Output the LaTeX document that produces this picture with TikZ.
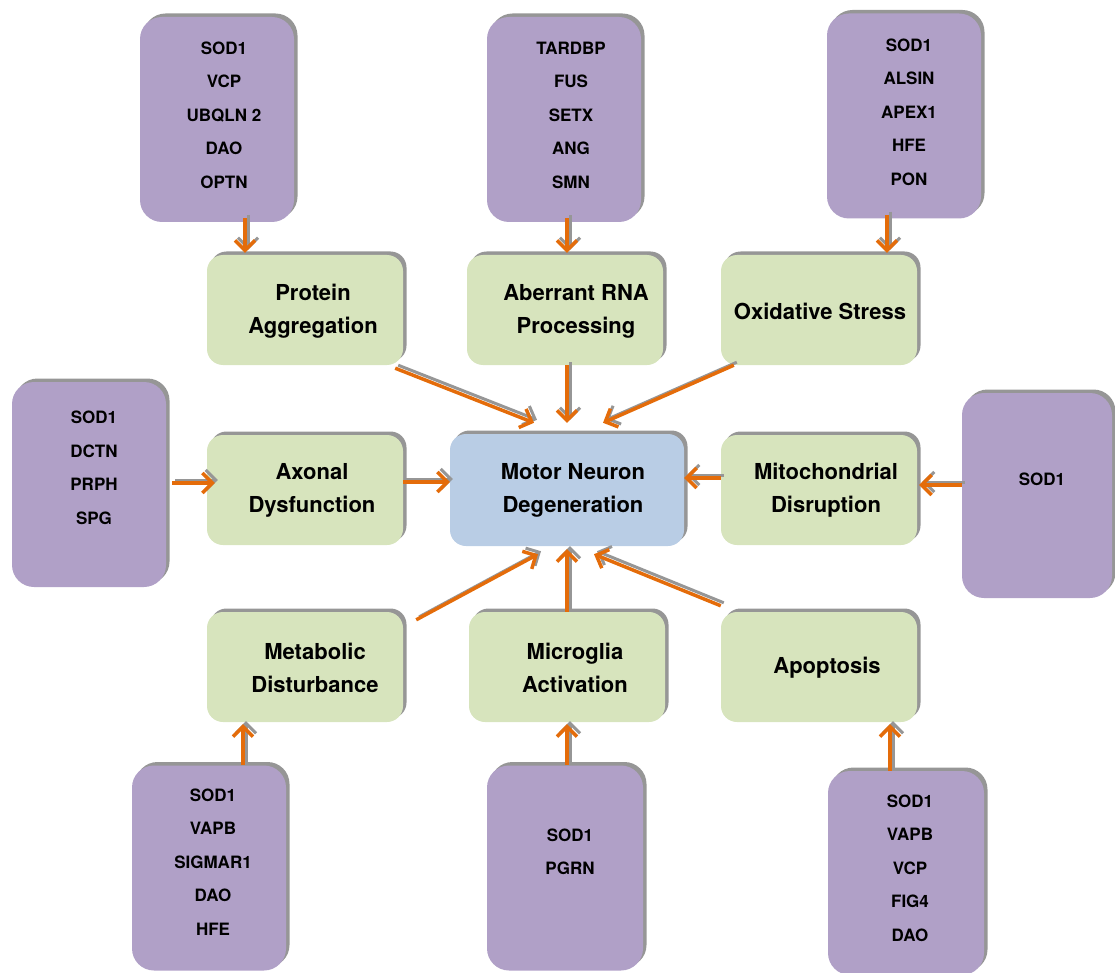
\documentclass[tikz,border=0pt]{standalone}
\usepackage{fontspec}
\setmainfont{TeX Gyre Heros}
\usetikzlibrary{arrows.meta,calc,shadows}
\definecolor{purplebox}{RGB}{176,160,199}
\definecolor{greenbox}{RGB}{215,228,189}
\definecolor{bluebox}{RGB}{185,205,229}
\definecolor{arrorange}{RGB}{228,108,10}
\definecolor{shadowgray}{RGB}{150,150,150}
\tikzset{
  boxshadow/.style={drop shadow={shadow xshift=3.5pt,shadow yshift=3.5pt,fill=shadowgray,opacity=1}},
  genebox/.style={rectangle,rounded corners=22pt,fill=purplebox,boxshadow,minimum width=154pt,minimum height=205pt,inner sep=0pt},
  procbox/.style={rectangle,rounded corners=16pt,fill=greenbox,boxshadow,minimum width=196pt,minimum height=110pt,inner sep=0pt},
  mainbox/.style={rectangle,rounded corners=16pt,fill=bluebox,boxshadow,minimum width=234pt,minimum height=112pt,inner sep=0pt},
  genetext/.style={align=center,font=\bfseries\fontsize{17pt}{33.5pt}\selectfont,text=black,inner sep=0pt},
  proctext/.style={align=center,font=\bfseries\fontsize{22pt}{33pt}\selectfont,text=black,inner sep=0pt},
  arr/.style={draw=arrorange,line width=3.5pt,-{Straight Barb[length=10pt,width=20pt]},
    preaction={draw=shadowgray,line width=3pt,transform canvas={xshift=3pt,yshift=3pt}}},
}
\begin{document}
\begin{tikzpicture}[x=1pt,y=-1pt]
\useasboundingbox (0,0) rectangle (1115,973);
% gene boxes
\node[genebox] (P1) at (217,119.5) {};
\node[genebox] (P2) at (564,119.5) {};
\node[genebox] (P3) at (904,116) {};
\node[genebox] (P4) at (89,484.5) {};
\node[genebox,minimum width=150pt] (P5) at (1037,495.5) {};
\node[genebox] (P6) at (209,868) {};
\node[genebox,minimum width=156pt] (P7) at (565,868) {};
\node[genebox,minimum width=156pt,minimum height=204pt] (P8) at (906,873) {};
\node[genetext] (T1) at (224,115) {SOD1\\VCP\\UBQLN 2\\DAO\\OPTN};
\node[genetext] (T2) at (571,115) {TARDBP\\FUS\\SETX\\ANG\\SMN};
\node[genetext] (T3) at (909,112) {SOD1\\ALSIN\\APEX1\\HFE\\PON};
\node[genetext] (T4) at (94,468) {SOD1\\DCTN\\PRPH\\SPG};
\node[genetext] (T5) at (1042,479) {SOD1};
\node[genetext] (T6) at (213,862) {SOD1\\VAPB\\SIGMAR1\\DAO\\HFE};
\node[genetext] (T7) at (570,852) {SOD1\\PGRN};
\node[genetext] (T8) at (910,868) {SOD1\\VAPB\\VCP\\FIG4\\DAO};
% process boxes
\node[procbox] (G1) at (305,310) {};
\node[procbox] (G2) at (565,310) {};
\node[procbox] (G3) at (819,310) {};
\node[procbox] (G4) at (305,490) {};
\node[mainbox] (M) at (567,490) {};
\node[procbox] (G6) at (819,490) {};
\node[procbox] (G7) at (305,667) {};
\node[procbox] (G8) at (567,667) {};
\node[procbox] (G9) at (819,667) {};
\node[proctext] (L1) at (313,311.5) {Protein\\Aggregation};
\node[proctext] (L2) at (576,311.5) {Aberrant RNA\\Processing};
\node[proctext] (L3) at (820,311) {Oxidative Stress};
\node[proctext] (L4) at (312,490.5) {Axonal\\Dysfunction};
\node[proctext] (LM) at (573,490.5) {Motor Neuron\\Degeneration};
\node[proctext] (L6) at (826,490.5) {Mitochondrial\\Disruption};
\node[proctext] (L7) at (315,668) {Metabolic\\Disturbance};
\node[proctext] (L8) at (575,668) {Microglia\\Activation};
\node[proctext] (L9) at (827,668) {Apoptosis};
% columns / rows for straight connectors
\coordinate (xa) at (245,0);
\coordinate (xb) at (567,0);
\coordinate (xc) at (887,0);
\coordinate (xd) at (243,0);
\coordinate (xe) at (890,0);
\coordinate (ya) at (0,483);
\coordinate (yb) at (0,482);
\coordinate (yc) at (0,478);
\coordinate (yd) at (0,485);
% gene -> process
\draw[arr] ($(P1.south -| xa)+(0,-4)$) -- ($(G1.north -| xa)+(0,-2)$);
\draw[arr] ($(P2.south -| xb)+(0,-4)$) -- ($(G2.north -| xb)+(0,-2)$);
\draw[arr] ($(P3.south -| xc)+(0,-4)$) -- ($(G3.north -| xc)+(0,-2)$);
\draw[arr] ($(P4.east |- ya)+(6,0)$) -- ($(G4.west |- ya)+(8,0)$);
\draw[arr] (P5.west |- yd) -- ($(G6.east |- yd)+(2,0)$);
\draw[arr] (P6.north -| xd) -- ($(G7.south -| xd)+(0,2)$);
\draw[arr] (P7.north -| xb) -- ($(G8.south -| xb)+(0,2)$);
\draw[arr] (P8.north -| xe) -- ($(G9.south -| xe)+(0,2)$);
% process -> motor neuron degeneration
\draw[arr] ($(G1.south east)+(-8,3)$) -- ($(M.north)+(-33,-11)$);
\draw[arr] (G2.south -| xb) -- ($(M.north -| xb)+(0,-11)$);
\draw[arr] ($(G3.south west)+(13,0)$) -- ($(M.north)+(36,-11)$);
\draw[arr] (G4.east |- yb) -- (M.west |- yb);
\draw[arr] (G6.west |- yc) -- (M.east |- yc);
\draw[arr] ($(G7.north east)+(13,8)$) -- ($(M.south)+(-29,8)$);
\draw[arr] (G8.north -| xb) -- ($(M.south -| xb)+(0,3)$);
\draw[arr] ($(G9.north west)+(0,-6)$) -- ($(M.south)+(27,8)$);
\end{tikzpicture}
\end{document}
